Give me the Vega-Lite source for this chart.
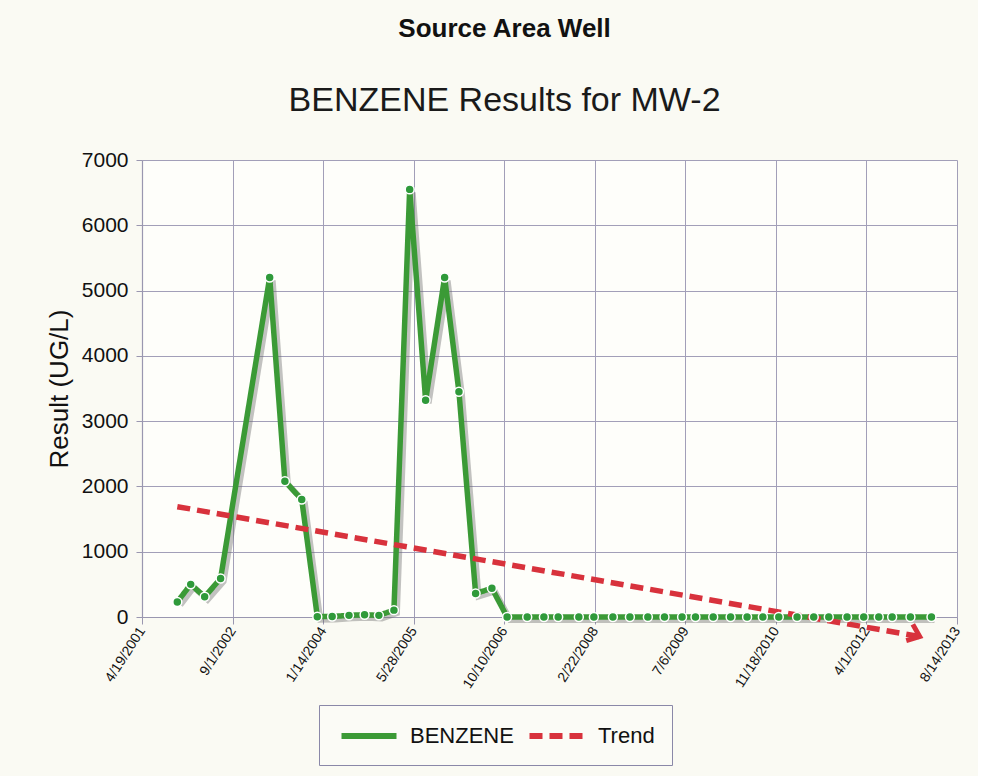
{
  "$schema": "https://vega.github.io/schema/vega-lite/v6.json",
  "width": 815,
  "height": 457,
  "padding": {"left": 46, "top": 16, "right": 15, "bottom": 10},
  "background": "#fafaf3",
  "title": {
    "text": "Source Area Well",
    "subtitle": "BENZENE Results for MW-2",
    "fontSize": 26,
    "fontWeight": "bold",
    "color": "#111111",
    "subtitleFontSize": 34,
    "subtitleColor": "#1a1a1a",
    "subtitlePadding": 42,
    "offset": 31,
    "anchor": "middle",
    "frame": "bounds"
  },
  "data": {
    "values": [
      {"date": "10/31/2001", "value": 230, "series": "BENZENE"},
      {"date": "1/13/2002", "value": 500, "series": "BENZENE"},
      {"date": "3/31/2002", "value": 310, "series": "BENZENE"},
      {"date": "6/27/2002", "value": 590, "series": "BENZENE"},
      {"date": "3/25/2003", "value": 5200, "series": "BENZENE"},
      {"date": "6/17/2003", "value": 2080, "series": "BENZENE"},
      {"date": "9/18/2003", "value": 1800, "series": "BENZENE"},
      {"date": "12/13/2003", "value": 5, "series": "BENZENE"},
      {"date": "3/4/2004", "value": 8, "series": "BENZENE"},
      {"date": "6/5/2004", "value": 25, "series": "BENZENE"},
      {"date": "8/30/2004", "value": 35, "series": "BENZENE"},
      {"date": "11/17/2004", "value": 25, "series": "BENZENE"},
      {"date": "2/8/2005", "value": 105, "series": "BENZENE"},
      {"date": "5/6/2005", "value": 6550, "series": "BENZENE"},
      {"date": "8/2/2005", "value": 3320, "series": "BENZENE"},
      {"date": "11/15/2005", "value": 5200, "series": "BENZENE"},
      {"date": "2/2/2006", "value": 3450, "series": "BENZENE"},
      {"date": "5/5/2006", "value": 360, "series": "BENZENE"},
      {"date": "8/3/2006", "value": 440, "series": "BENZENE"},
      {"date": "10/26/2006", "value": 0, "series": "BENZENE"},
      {"date": "2/14/2007", "value": 0, "series": "BENZENE"},
      {"date": "5/17/2007", "value": 0, "series": "BENZENE"},
      {"date": "8/4/2007", "value": 0, "series": "BENZENE"},
      {"date": "11/26/2007", "value": 0, "series": "BENZENE"},
      {"date": "2/17/2008", "value": 0, "series": "BENZENE"},
      {"date": "6/1/2008", "value": 0, "series": "BENZENE"},
      {"date": "9/3/2008", "value": 0, "series": "BENZENE"},
      {"date": "12/11/2008", "value": 0, "series": "BENZENE"},
      {"date": "3/13/2009", "value": 0, "series": "BENZENE"},
      {"date": "6/18/2009", "value": 0, "series": "BENZENE"},
      {"date": "8/31/2009", "value": 0, "series": "BENZENE"},
      {"date": "12/7/2009", "value": 0, "series": "BENZENE"},
      {"date": "3/13/2010", "value": 0, "series": "BENZENE"},
      {"date": "6/12/2010", "value": 0, "series": "BENZENE"},
      {"date": "9/7/2010", "value": 0, "series": "BENZENE"},
      {"date": "12/4/2010", "value": 0, "series": "BENZENE"},
      {"date": "3/15/2011", "value": 0, "series": "BENZENE"},
      {"date": "6/15/2011", "value": 0, "series": "BENZENE"},
      {"date": "9/6/2011", "value": 0, "series": "BENZENE"},
      {"date": "12/16/2011", "value": 0, "series": "BENZENE"},
      {"date": "3/17/2012", "value": 0, "series": "BENZENE"},
      {"date": "6/8/2012", "value": 0, "series": "BENZENE"},
      {"date": "8/21/2012", "value": 0, "series": "BENZENE"},
      {"date": "11/30/2012", "value": 0, "series": "BENZENE"},
      {"date": "3/26/2013", "value": 0, "series": "BENZENE"},
      {"date": "10/31/2001", "value": 1690, "series": "Trend"},
      {"date": "1/20/2013", "value": -300, "series": "Trend"}
    ]
  },
  "encoding": {
    "x": {
      "field": "date",
      "type": "temporal",
      "scale": {
        "domain": [{"year": 2001, "month": 4, "date": 19}, {"year": 2013, "month": 8, "date": 14}],
        "nice": false
      },
      "axis": {
        "title": null,
        "values": [
          {"year": 2001, "month": 4, "date": 19},
          {"year": 2002, "month": 9, "date": 1},
          {"year": 2004, "month": 1, "date": 14},
          {"year": 2005, "month": 5, "date": 28},
          {"year": 2006, "month": 10, "date": 10},
          {"year": 2008, "month": 2, "date": 22},
          {"year": 2009, "month": 7, "date": 6},
          {"year": 2010, "month": 11, "date": 18},
          {"year": 2012, "month": 4, "date": 1},
          {"year": 2013, "month": 8, "date": 14}
        ],
        "format": "%-m/%-d/%Y",
        "labelAngle": -57,
        "labelFontSize": 14,
        "labelColor": "#111111",
        "labelPadding": 4,
        "tickSize": 7,
        "grid": true
      }
    },
    "y": {
      "field": "value",
      "type": "quantitative",
      "scale": {"domain": [0, 7000], "nice": false},
      "axis": {
        "title": "Result (UG/L)",
        "titleFontSize": 26,
        "titleFontWeight": "normal",
        "titleColor": "#111111",
        "titlePadding": 9,
        "values": [0, 1000, 2000, 3000, 4000, 5000, 6000, 7000],
        "format": "d",
        "labelFontSize": 21,
        "labelColor": "#111111",
        "labelPadding": 8,
        "tickSize": 6,
        "grid": true
      }
    }
  },
  "layer": [
    {
      "transform": [{"filter": "datum.series === 'BENZENE'"}],
      "mark": {"type": "line", "strokeWidth": 6, "color": "#6a6a6a", "opacity": 0.4, "xOffset": 3, "yOffset": 3, "clip": false},
      "encoding": {}
    },
    {
      "mark": {"type": "line", "strokeWidth": 5.5, "clip": false},
      "encoding": {
        "color": {
          "field": "series",
          "type": "nominal",
          "scale": {"domain": ["BENZENE", "Trend"], "range": ["#3b9a36", "#d8323c"]},
          "legend": {
            "title": null,
            "orient": "none",
            "legendX": 177,
            "legendY": 545,
            "direction": "horizontal",
            "symbolType": "M-2.5,0H2.5",
            "symbolSize": 484,
            "symbolOffset": 19,
            "symbolStrokeWidth": 6,
            "labelFontSize": 22,
            "labelColor": "#111111",
            "labelOffset": 27,
            "columnPadding": 3,
            "padding": 17,
            "strokeColor": "#8a88a8",
            "fillColor": "#fbfbf6"
          }
        },
        "strokeDash": {
          "field": "series",
          "type": "nominal",
          "scale": {"domain": ["BENZENE", "Trend"], "range": [[1, 0], [13, 7]]},
          "legend": null
        }
      }
    },
    {
      "transform": [{"filter": "datum.series === 'BENZENE'"}],
      "mark": {"type": "point", "filled": true, "fill": "#2f9a3a", "stroke": "white", "strokeWidth": 1.5, "size": 80, "opacity": 1, "clip": false},
      "encoding": {}
    },
    {
      "transform": [{"filter": "datum.series === 'Trend' && datum.value < 0"}],
      "mark": {"type": "point", "shape": "M-1,-0.8L0,0L-1,0.8", "filled": false, "stroke": "#d8323c", "strokeWidth": 5, "size": 480, "angle": 22, "opacity": 1, "clip": false},
      "encoding": {}
    }
  ],
  "config": {
    "font": "Liberation Sans",
    "view": {"stroke": null, "fill": "#fefefa"},
    "axis": {
      "gridColor": "#a29fb8",
      "gridWidth": 1,
      "gridOpacity": 1,
      "domainColor": "#9a97b0",
      "tickColor": "#9a97b0",
      "domainWidth": 1.2
    }
  }
}
